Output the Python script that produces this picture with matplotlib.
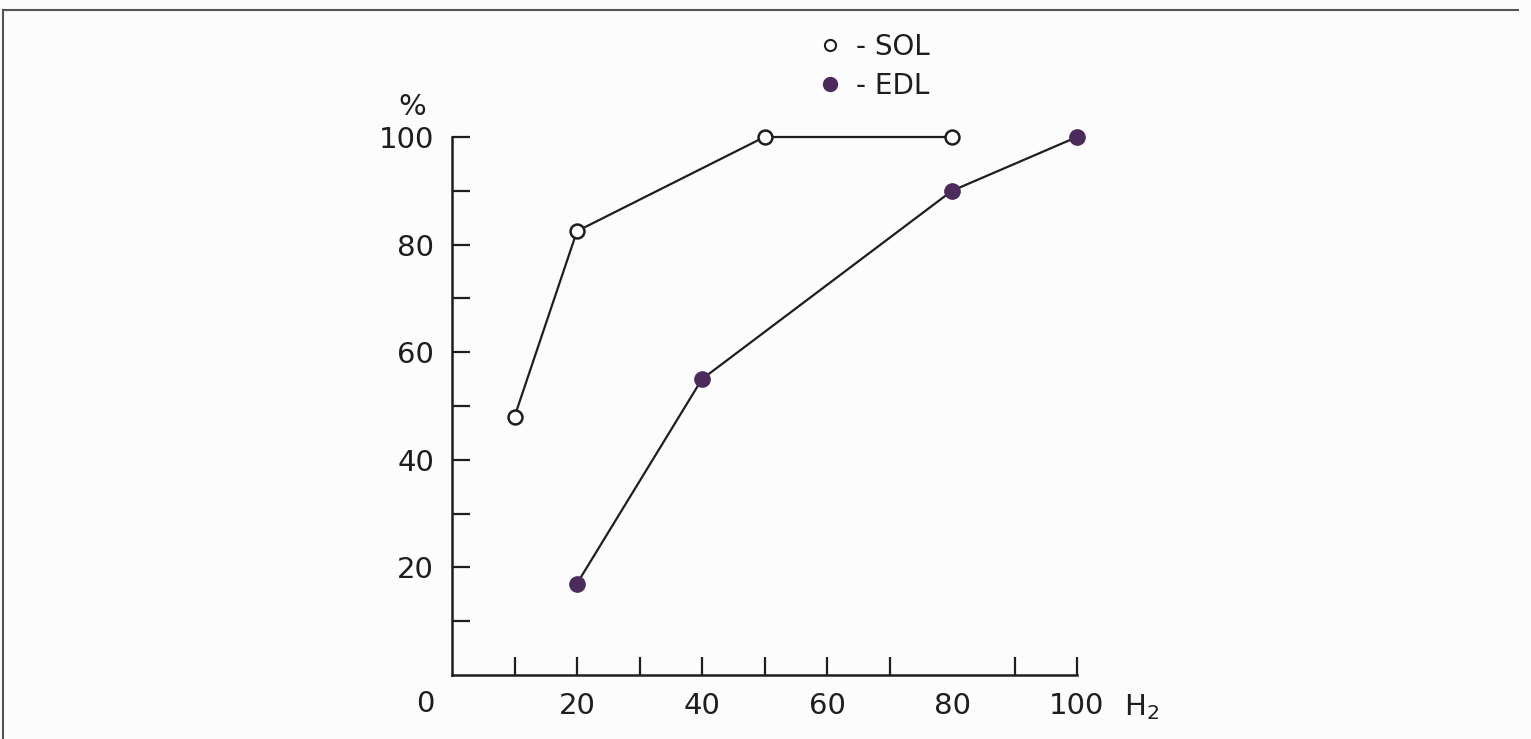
import numpy as np
import matplotlib
matplotlib.use('Agg')
import matplotlib.pyplot as plt
from matplotlib.lines import Line2D

# frequency (Hz) vs % of max tension
sol_hz = [10, 20, 50, 80]
sol_pct = [48, 82.5, 100, 100]
edl_hz = [20, 40, 80, 100]
edl_pct = [17, 55, 90, 100]

# the scan has no tick mark at 80, only the label
x_ticks = [10, 20, 30, 40, 50, 60, 70, 90, 100]
x_labels = ['', '20', '', '40', '', '60', '', '', '100']
y_ticks = [10, 20, 30, 40, 50, 60, 70, 80, 90, 100]
y_labels = ['', '20', '', '40', '', '60', '', '80', '', '100']

ink = '#1e1e22'
purple = '#4b2a5c'
fs = 21
plt.rcParams['font.family'] = ['DejaVu Sans']

fig = plt.figure(figsize=(15.31, 7.39), dpi=100, facecolor='#fcfcfc')
ax = fig.add_axes([452/1531, 64/739, 625/1531, 538/739])
ax.set_facecolor('none')

ax.plot(sol_hz, sol_pct, '-o', color=ink, lw=1.6, ms=10,
        mfc='white', mec=ink, mew=1.8, clip_on=False, zorder=3)
ax.plot(edl_hz, edl_pct, '-o', color=ink, lw=1.6, ms=11,
        mfc=purple, mec=purple, clip_on=False, zorder=3)

ax.set_xlim(0, 100)
ax.set_ylim(0, 100)
for s in ['top', 'right']:
    ax.spines[s].set_visible(False)
for s in ['left', 'bottom']:
    ax.spines[s].set_color(ink)
    ax.spines[s].set_linewidth(1.8)

ax.set_xticks(x_ticks)
ax.set_xticklabels(x_labels)
ax.set_yticks(y_ticks)
ax.set_yticklabels(y_labels)
ax.tick_params(axis='x', direction='in', length=13, width=1.6, color=ink,
               pad=12, labelsize=fs, labelcolor=ink)
ax.tick_params(axis='y', direction='in', length=13, width=1.6, color=ink,
               pad=13, labelsize=fs, labelcolor=ink)

# stray labels: origin 0, 80 without tick, unit and percent sign
ax.text(-4.3, -5.3, '0', fontsize=fs, color=ink, ha='center', va='center', clip_on=False)
ax.text(80, -5.7, '80', fontsize=fs, color=ink, ha='center', va='center', clip_on=False)
ax.text(107.6, -7.4, r'H$_2$', fontsize=fs, color=ink, ha='left', va='baseline', clip_on=False)
ax.text(-6.4, 105.5, '%', fontsize=fs, color=ink, ha='center', va='center', clip_on=False)

handles = [Line2D([], [], ls='none', marker='o', ms=8, mfc='white', mec=ink, mew=1.5),
           Line2D([], [], ls='none', marker='o', ms=10, mfc=purple, mec=purple)]
ax.legend(handles, ['- SOL', '- EDL'], loc='center left', bbox_to_anchor=(0.589, 1.131),
          frameon=False, fontsize=20, handlelength=0.7, handletextpad=0.6,
          labelspacing=0.4, borderpad=0, borderaxespad=0, labelcolor=ink)

# border of the scanned figure
fig.add_artist(Line2D([3/1531, 3/1531], [0, 1 - 10/739], color='#555555', lw=1.5))
fig.add_artist(Line2D([3/1531, 1518/1531], [1 - 10/739, 1 - 10/739], color='#555555', lw=1.5))

fig.savefig('out.png', dpi=100, facecolor=fig.get_facecolor())
